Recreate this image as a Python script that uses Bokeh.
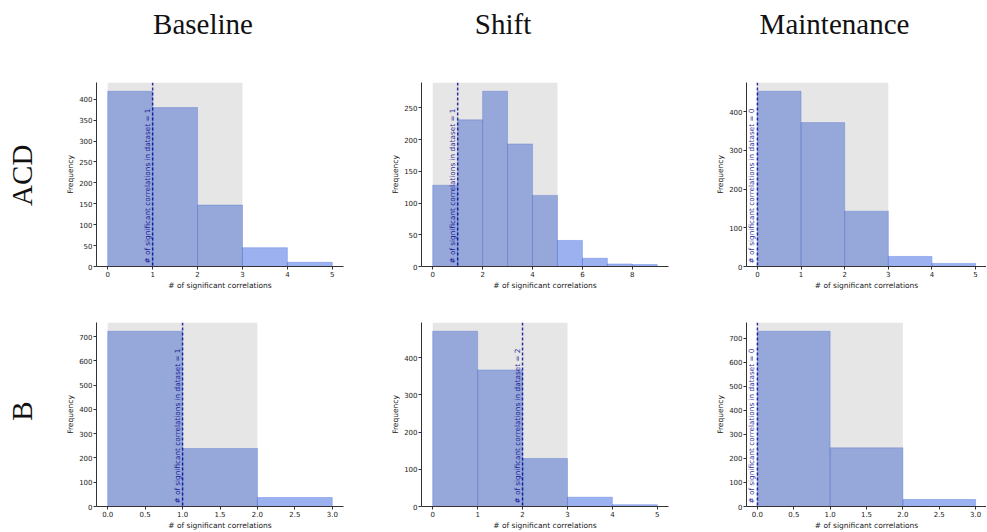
import math
from bokeh.plotting import figure
from bokeh.layouts import column, row
from bokeh.models import Range1d, FixedTicker, BoxAnnotation, Span, Label, NumeralTickFormatter
from bokeh.embed import file_html
from bokeh.resources import INLINE

# ---------------- data ----------------
col_titles = ["Baseline", "Shift", "Maintenance"]
row_titles = ["ACD", "B"]

acd_baseline = [419, 380, 147, 45, 10]
acd_shift = [128, 231, 276, 193, 112, 41, 13, 4, 3]
acd_maintenance = [453, 372, 143, 26, 8]
b_baseline = [722, 239, 37]
b_shift = [471, 367, 129, 25, 5]
b_maintenance = [729, 244, 29]

observed = [1, 1, 0, 1, 2, 0]          # value in dataset (dashed line)
shaded_upper = [3, 5, 3, 2, 3, 2]       # grey band from 0 to this value

xticks_acd_baseline = [0, 1, 2, 3, 4, 5]
xticks_acd_shift = [0, 2, 4, 6, 8]
xticks_acd_maintenance = [0, 1, 2, 3, 4, 5]
xticks_b_baseline = [0, 0.5, 1.0, 1.5, 2.0, 2.5, 3.0]
xticks_b_shift = [0, 1, 2, 3, 4, 5]
xticks_b_maintenance = [0, 0.5, 1.0, 1.5, 2.0, 2.5, 3.0]

yticks_acd_baseline = [0, 50, 100, 150, 200, 250, 300, 350, 400]
yticks_acd_shift = [0, 50, 100, 150, 200, 250]
yticks_acd_maintenance = [0, 100, 200, 300, 400]
yticks_b_baseline = [0, 100, 200, 300, 400, 500, 600, 700]
yticks_b_shift = [0, 100, 200, 300, 400]
yticks_b_maintenance = [0, 100, 200, 300, 400, 500, 600, 700]

counts_all = [acd_baseline, acd_shift, acd_maintenance, b_baseline, b_shift, b_maintenance]
xticks_all = [xticks_acd_baseline, xticks_acd_shift, xticks_acd_maintenance,
              xticks_b_baseline, xticks_b_shift, xticks_b_maintenance]
yticks_all = [yticks_acd_baseline, yticks_acd_shift, yticks_acd_maintenance,
              yticks_b_baseline, yticks_b_shift, yticks_b_maintenance]
decimal_x = [False, False, False, True, False, True]

# ---------------- style ----------------
TICK_FS = "7px"
LABEL_FS = "7.5px"
LINE_TEXT_FS = "7.3px"
FONT = "DejaVu Sans"
SERIF = "Liberation Serif"
AX_COL = "#333333"

LAB_W = 56
FRAME_W = [247, 247, 240]
BORDER_R = [38, 38, 0]
BORDER_L = 40
ROW_T = 10
ROW_FRAME_H = [184, 184]
ROW_B = [46, 25]
HEADER_H = 72
TOTAL_W = LAB_W + sum(BORDER_L + fw + br for fw, br in zip(FRAME_W, BORDER_R))


def panel(i):
    counts = counts_all[i]
    r, c = divmod(i, 3)
    n = len(counts)
    edges = list(range(n + 1))
    ymax = max(counts) * 1.05
    p = figure(frame_width=FRAME_W[c], frame_height=ROW_FRAME_H[r],
               min_border_left=BORDER_L, min_border_right=BORDER_R[c],
               min_border_top=ROW_T, min_border_bottom=ROW_B[r],
               x_range=Range1d(-0.05 * n, n * 1.05), y_range=Range1d(0, ymax),
               output_backend="svg", toolbar_location=None)
    p.outline_line_color = None
    p.grid.visible = False
    p.quad(left=edges[:-1], right=edges[1:], bottom=0, top=counts,
           fill_color="#4169e1", fill_alpha=0.52,
           line_color="#4169e1", line_alpha=0.35, line_width=1)
    p.add_layout(BoxAnnotation(left=0, right=shaded_upper[i],
                               fill_color="gray", fill_alpha=0.2,
                               line_alpha=0))
    obs = observed[i]
    p.add_layout(Span(location=obs, dimension="height", line_color="darkblue",
                      line_alpha=0.8, line_dash="3 2", line_width=1.5))
    p.add_layout(Label(x=obs, y=0, angle=math.pi / 2, x_offset=-1, y_offset=3,
                       text=f"# of significant correlations in dataset = {obs}",
                       text_font=FONT, text_font_size=LINE_TEXT_FS,
                       text_color="darkblue", text_alpha=0.85,
                       text_align="left", text_baseline="bottom"))
    p.xaxis.ticker = FixedTicker(ticks=xticks_all[i])
    p.yaxis.ticker = FixedTicker(ticks=yticks_all[i])
    if decimal_x[i]:
        p.xaxis.formatter = NumeralTickFormatter(format="0.0")
    p.xaxis.axis_label = "# of significant correlations"
    p.yaxis.axis_label = "Frequency"
    for ax in (p.xaxis, p.yaxis):
        ax.axis_label_text_font = FONT
        ax.axis_label_text_font_size = LABEL_FS
        ax.axis_label_text_font_style = "normal"
        ax.axis_label_text_color = "#222222"
        ax.major_label_text_font = FONT
        ax.major_label_text_font_size = TICK_FS
        ax.major_label_text_color = "#222222"
        ax.axis_line_color = AX_COL
        ax.major_tick_line_color = AX_COL
        ax.minor_tick_line_color = None
        ax.major_tick_out = 3
        ax.major_tick_in = 0
        ax.major_label_standoff = 1
        ax.axis_label_standoff = 1
    return p


def blank(w, h):
    f = figure(width=w, height=h, x_range=Range1d(0, w), y_range=Range1d(0, h),
               min_border=0, x_axis_location=None, y_axis_location=None,
               output_backend="svg", toolbar_location=None)
    f.outline_line_color = None
    f.grid.visible = False
    return f


# header with column titles (data units of the blank figure = pixels, y up)
header = blank(TOTAL_W, HEADER_H)
title_x = [202.5, 502.5, 834]
title_baseline_from_top = 23
for tx, t in zip(title_x, col_titles):
    header.add_layout(Label(x=tx, y=HEADER_H - title_baseline_from_top,
                            text=t, text_font=SERIF, text_font_size="29px",
                            text_color="#111111", text_align="center",
                            text_baseline="alphabetic"))

rows = []
row_label_center_y = [193, 418]
row_heights = [ROW_T + ROW_FRAME_H[r] + ROW_B[r] for r in range(2)]
row_top = [HEADER_H, HEADER_H + row_heights[0]]
for r in range(2):
    h = row_heights[r]
    lab = blank(LAB_W, h)
    lab.add_layout(Label(x=21, y=h - (row_label_center_y[r] - row_top[r]),
                         angle=math.pi / 2,
                         text=row_titles[r], text_font=SERIF, text_font_size="29px",
                         text_color="#111111", text_align="center",
                         text_baseline="middle"))
    rows.append(row(lab, *[panel(3 * r + c) for c in range(3)]))

layout = column(header, *rows)
open("out.html", "w").write(file_html(layout, INLINE))
